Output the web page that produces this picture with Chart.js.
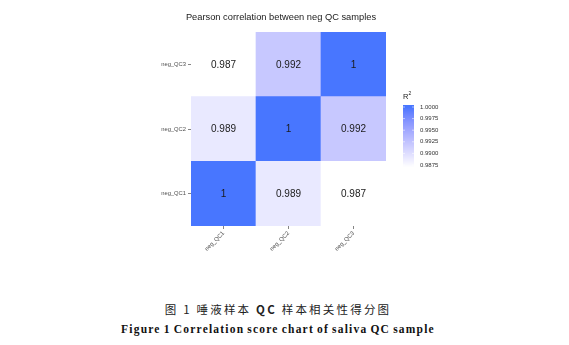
<!DOCTYPE html>
<html>
<head>
<meta charset="utf-8">
<script src="https://cdn.jsdelivr.net/npm/chart.js@4.4.0/dist/chart.umd.min.js"></script>
<style>
  body{margin:0;background:#fff;width:569px;height:345px;overflow:hidden;position:relative;}
  #Grafico1{position:absolute;left:0;top:0;}
  .cap1{position:absolute;left:0;width:556px;top:301px;text-align:center;font-family:"Noto Sans CJK SC",serif;font-size:11.5px;letter-spacing:2.2px;color:#222;}
  .cap2{position:absolute;left:0;width:556px;top:323px;text-align:center;font-family:"Liberation Serif",serif;font-weight:bold;font-size:11.5px;letter-spacing:1.2px;word-spacing:-1px;color:#111;}
</style>
</head>
<body>
<canvas id="Grafico1" width="569" height="282"></canvas>
<div class="cap1">图 1 唾液样本 <b>QC</b> 样本相关性得分图</div>
<div class="cap2">Figure 1 Correlation score chart of saliva QC sample</div>
<script>
// muestras y valores R2 (fila = muestra del eje y, de abajo hacia arriba)
const muestras = ['neg_QC1','neg_QC2','neg_QC3'];
const filaQC1 = [1, 0.989, 0.987];
const filaQC2 = [0.989, 1, 0.992];
const filaQC3 = [0.987, 0.992, 1];
const cortes = [1.0000, 0.9975, 0.9950, 0.9925, 0.9900, 0.9875];
const titulo = 'Pearson correlation between neg QC samples';

const filas = [filaQC1, filaQC2, filaQC3];
const minR = 0.987, maxR = 1;

// gradiente blanco -> royalblue1 en espacio Lab (como ggplot)
function hex2rgb(h){ return [parseInt(h.substr(1,2),16),parseInt(h.substr(3,2),16),parseInt(h.substr(5,2),16)]; }
function rgb2lab(c){
    let [r,g,b] = c.map(v => { v/=255; return v>0.04045 ? Math.pow((v+0.055)/1.055,2.4) : v/12.92; });
    let x=(r*0.4124+g*0.3576+b*0.1805)/0.95047, y=(r*0.2126+g*0.7152+b*0.0722), z=(r*0.0193+g*0.1192+b*0.9505)/1.08883;
    const f = t => t>0.008856 ? Math.cbrt(t) : 7.787*t+16/116;
    return [116*f(y)-16, 500*(f(x)-f(y)), 200*(f(y)-f(z))];
}
function lab2rgb(l){
    let fy=(l[0]+16)/116, fx=fy+l[1]/500, fz=fy-l[2]/200;
    const fi = t => t*t*t>0.008856 ? t*t*t : (t-16/116)/7.787;
    let x=fi(fx)*0.95047, y=fi(fy), z=fi(fz)*1.08883;
    let r=x*3.2406+y*-1.5372+z*-0.4986, g=x*-0.9689+y*1.8758+z*0.0415, b=x*0.0557+y*-0.2040+z*1.0570;
    return [r,g,b].map(v => { v = v>0.0031308 ? 1.055*Math.pow(v,1/2.4)-0.055 : 12.92*v; return Math.round(Math.max(0,Math.min(1,v))*255); });
}
const labBajo = rgb2lab(hex2rgb('#FFFFFF'));
const labAlto = rgb2lab(hex2rgb('#4876FF'));
function colorDe(v){
    let t = Math.max(0, Math.min(1, (v-minR)/(maxR-minR)));
    let c = lab2rgb([0,1,2].map(i => labBajo[i]+(labAlto[i]-labBajo[i])*t));
    return 'rgb('+c[0]+','+c[1]+','+c[2]+')';
}

const datasets = filas.map((fila, i) => ({
    data: fila.map(() => [i, i+1]),
    valores: fila,
    backgroundColor: fila.map(v => colorDe(v)),
    borderWidth: 0,
    grouped: false,
    barPercentage: 1,
    categoryPercentage: 1
}));

const fuente = '"Liberation Sans", Arial, sans-serif';

const textos = {
    id: 'textos',
    afterDatasetsDraw(chart){
        const ctx = chart.ctx;
        ctx.save();
        ctx.fillStyle = '#1a1a1a';
        ctx.font = '10px ' + fuente;
        ctx.textAlign = 'center';
        ctx.textBaseline = 'middle';
        chart.data.datasets.forEach((ds, i) => {
            chart.getDatasetMeta(i).data.forEach((bar, j) => {
                let v = ds.valores[j];
                ctx.fillText(v === 1 ? '1' : v.toFixed(3), bar.x, (bar.y + bar.base)/2 + 0.5);
            });
        });
        ctx.restore();
    },
    afterDraw(chart){
        const ctx = chart.ctx;
        ctx.save();
        // titulo
        ctx.fillStyle = '#1a1a1a';
        ctx.font = '9.3px ' + fuente;
        ctx.textAlign = 'center';
        ctx.textBaseline = 'middle';
        ctx.fillText(titulo, 281, 17);
        // barra de color
        const x0 = 403, w = 11, yTop = 105, yBot = 168;
        const yDe = v => 107 + (1 - v) / 0.0125 * 58;
        for (let y = yTop; y < yBot; y++) {
            let v = 1 - (y + 0.5 - 107) / 58 * 0.0125;
            ctx.fillStyle = colorDe(v);
            ctx.fillRect(x0, y, w, 1);
        }
        ctx.strokeStyle = 'rgba(255,255,255,0.9)';
        ctx.lineWidth = 0.6;
        ctx.fillStyle = '#333';
        ctx.font = '6px ' + fuente;
        ctx.textAlign = 'left';
        cortes.forEach(v => {
            let y = yDe(v);
            ctx.beginPath();
            ctx.moveTo(x0, y); ctx.lineTo(x0 + 2, y);
            ctx.moveTo(x0 + w - 2, y); ctx.lineTo(x0 + w, y);
            ctx.stroke();
            ctx.fillText(v.toFixed(4), x0 + w + 6, y);
        });
        ctx.fillStyle = '#1a1a1a';
        ctx.font = '7.5px ' + fuente;
        ctx.fillText('R', x0, 97);
        ctx.font = '5px ' + fuente;
        ctx.fillText('2', x0 + 5.5, 94);
        ctx.restore();
    }
};

let CanvasG1 = document.getElementById('Grafico1').getContext('2d');
let G1 = new Chart(CanvasG1, {
    type: 'bar',
    data: { labels: muestras, datasets: datasets },
    options: {
        responsive: false,
        animation: false,
        layout: { padding: { left: 0, right: 183, top: 32, bottom: 0 } },
        plugins: { legend: { display: false }, tooltip: { enabled: false }, title: { display: false } },
        scales: {
            x: {
                afterFit(scale){ scale.height = 282 - 226; },
                border: { display: false },
                grid: { offset: false, drawOnChartArea: false, tickLength: 3, color: '#333', lineWidth: 0.6 },
                ticks: { minRotation: 45, maxRotation: 45, padding: 1, color: '#4d4d4d', font: { family: fuente, size: 5.8 } }
            },
            y: {
                min: 0, max: 3,
                afterFit(scale){ scale.width = 191; },
                afterBuildTicks(scale){ scale.ticks = [0.5, 1.5, 2.5].map(v => ({ value: v })); },
                border: { display: false },
                grid: { drawOnChartArea: false, tickLength: 3, color: '#333', lineWidth: 0.6 },
                ticks: {
                    padding: 2, color: '#4d4d4d', font: { family: fuente, size: 5.8 },
                    callback: v => muestras[Math.floor(v)]
                }
            }
        }
    },
    plugins: [textos]
});
</script>
</body>
</html>
